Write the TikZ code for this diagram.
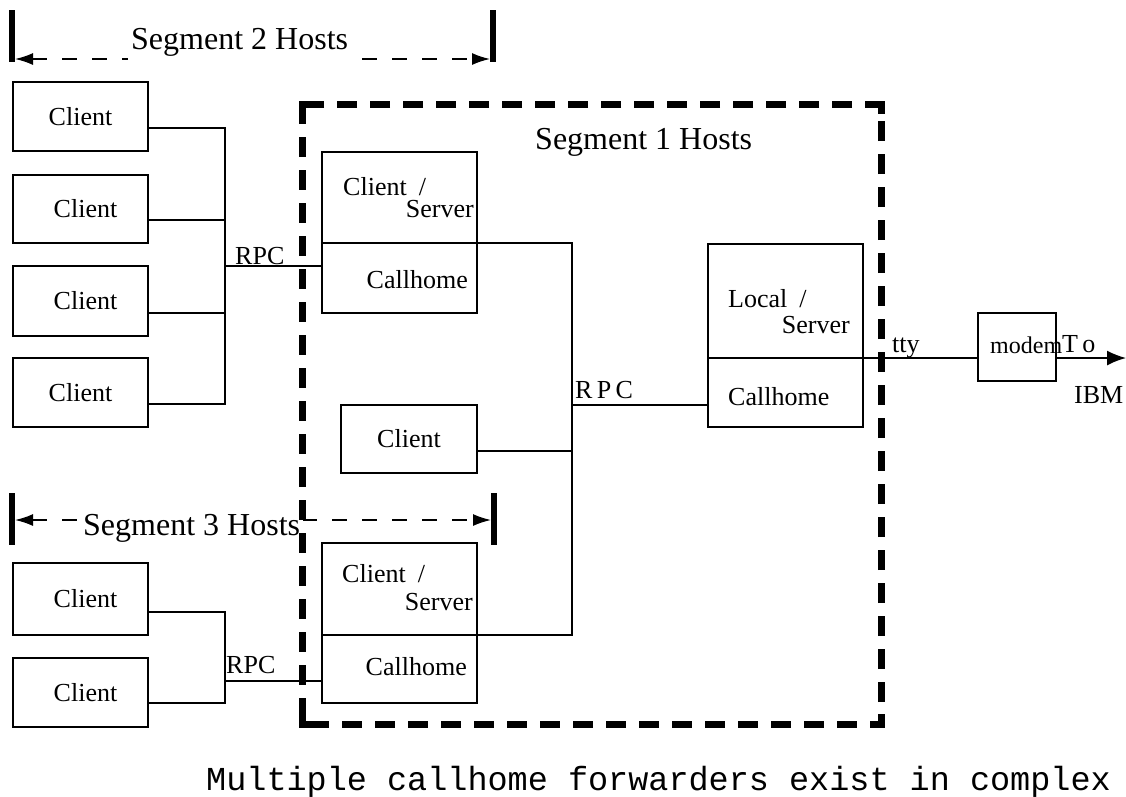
\documentclass[tikz,border=0pt]{standalone}
\usepackage{fontspec}
\setmainfont{Liberation Serif}
\newfontfamily\capmono{Liberation Mono}
\usetikzlibrary{arrows.meta}
\newcommand\boxfont{\fontsize{26pt}{28pt}\selectfont}
\newcommand\segfont{\fontsize{32pt}{34pt}\selectfont}
\begin{document}
\begin{tikzpicture}[x=1pt,y=-1pt,
  box/.style={draw, line width=1.6pt, inner sep=0pt, outer sep=0pt, anchor=north west, font=\boxfont},
  wire/.style={line width=1.6pt},
  lbl/.style={inner sep=0pt, font=\boxfont},
  bar/.style={line width=6pt},
  span/.style={line width=1.6pt, dash pattern=on 15pt off 15pt,
    {Latex[length=18pt,width=12pt]}-{Latex[length=18pt,width=12pt]}},
  seglbl/.style={fill=white, inner xsep=3pt, inner ysep=6pt, font=\segfont, anchor=base west},
  segbox/.style={line width=7pt, dash pattern=on 20pt off 13pt},
  corner/.style={line width=7pt}
]
\useasboundingbox (0,0) rectangle (1126,796);

% ---------- Segment 2 clients ----------
\node[box, minimum width=135pt, minimum height=69pt] (c21) at (13,82)  {Client};
\node[box, minimum width=135pt, minimum height=68pt] (c22) at (13,175) {\hspace{10pt}Client};
\node[box, minimum width=135pt, minimum height=70pt] (c23) at (13,266) {\hspace{10pt}Client};
\node[box, minimum width=135pt, minimum height=69pt] (c24) at (13,358) {Client};

\coordinate (bus2a) at (225,128);
\coordinate (bus2b) at (225,220);
\coordinate (bus2c) at (225,313);
\coordinate (bus2d) at (225,404);
\coordinate (rpc2)  at (225,266);

% ---------- Segment 1 hosts ----------
\node[box, minimum width=155pt, minimum height=91pt] (csAt) at (322,152) {};
\node[box, minimum width=155pt, minimum height=70pt] (csAb) at (322,243) {};
\node[lbl, anchor=base west] (csAc) at (343,195) {Client\hspace{12pt}/};
\node[lbl, anchor=base east] (csAs) at (474,217) {Server};
\node[lbl, anchor=base east] (csAh) at (468,288) {Callhome};

\node[box, minimum width=136pt, minimum height=68pt] (cM) at (341,405) {Client};

\node[box, minimum width=155pt, minimum height=92pt] (csBt) at (322,543) {};
\node[box, minimum width=155pt, minimum height=68pt] (csBb) at (322,635) {};
\node[lbl, anchor=base west] (csBc) at (342,582) {Client\hspace{12pt}/};
\node[lbl, anchor=base east] (csBs) at (473,610) {Server};
\node[lbl, anchor=base east] (csBh) at (467,675) {Callhome};

\node[box, minimum width=155pt, minimum height=114pt] (loT) at (708,244) {};
\node[box, minimum width=155pt, minimum height=69pt]  (loB) at (708,358) {};
\node[lbl, anchor=base west] (loL) at (728,307) {Local\hspace{12pt}/};
\node[lbl, anchor=base east] (loS) at (850,333) {Server};
\node[lbl, anchor=base west] (loH) at (728,405) {Callhome};

\coordinate (bus1t) at (572,243);
\coordinate (bus1m) at (572,451);
\coordinate (bus1r) at (572,405);
\coordinate (bus1b) at (572,635);

% ---------- modem ----------
\node[box, minimum width=78pt, minimum height=68pt] (modem) at (978,313) {};
\node[lbl, anchor=base west, font=\fontsize{24pt}{26pt}\selectfont] (modemT) at (990,353) {modem};
\coordinate (ibm) at (1126,358);

% ---------- Segment 3 clients ----------
\node[box, minimum width=135pt, minimum height=72pt] (c31) at (13,563) {\hspace{10pt}Client};
\node[box, minimum width=135pt, minimum height=69pt] (c32) at (13,658) {\hspace{10pt}Client};
\coordinate (bus3a) at (225,612);
\coordinate (bus3b) at (225,703);
\coordinate (rpc3)  at (225,681);

% ---------- wiring ----------
\draw[wire] (c21.east |- bus2a) -- (bus2a) -- (bus2d) -- (c24.east |- bus2d);
\draw[wire] (c22.east |- bus2b) -- (bus2b);
\draw[wire] (c23.east |- bus2c) -- (bus2c);
\draw[wire] (rpc2) -- (csAb.west |- rpc2);

\draw[wire] (csAt.south east) -- (bus1t) -- (bus1b) -- (csBt.south east);
\draw[wire] (cM.east |- bus1m) -- (bus1m);
\draw[wire] (bus1r) -- (loB.west |- bus1r);
\draw[wire] (loT.south east) -- (modem.west |- loT.south east);
\draw[wire, -{Latex[length=19pt,width=15pt]}] (modem.east |- ibm) -- (ibm);

\draw[wire] (c31.east |- bus3a) -- (bus3a) -- (bus3b) -- (c32.east |- bus3b);
\draw[wire] (rpc3) -- (csBb.west |- rpc3);

% ---------- wire labels ----------
\node[lbl, anchor=base west] (rpcA) at (235,264) {RPC};
\node[lbl, anchor=base west] (rpcM) at (575,398) {R\,P\,C};
\node[lbl, anchor=base west] (rpcB) at (226,673) {RPC};
\node[lbl, anchor=base west] (tty) at (892,352) {tty};
\node[lbl, anchor=base west] (to) at (1062,352) {T\,o};
\node[lbl, anchor=base west] (ibmT) at (1074,403) {IBM};

% ---------- Segment 2 span ----------
\draw[bar] (12,10) -- (12,62);
\draw[bar] (493,10) -- (493,62);
\coordinate (s2l) at (15,59);
\coordinate (s2r) at (490,59);
\draw[span] (s2l) -- (s2r);
\node[seglbl] (seg2) at (128,49) {Segment 2 Hosts};

% ---------- Segment 3 span ----------
\draw[bar] (12,493) -- (12,545);
\draw[bar] (494,493) -- (494,545);
\coordinate (s3l) at (15,520);
\coordinate (s3r) at (491,520);
\draw[span] (s3l) -- (s3r);
\node[seglbl] (seg3) at (80,535) {Segment 3 Hosts};

% ---------- Segment 1 boundary ----------
\draw[segbox] (302,104) rectangle (881,724);
\draw[corner] (302,114) -- (302,104) -- (312,104);
\draw[corner] (871,104) -- (881,104) -- (881,114);
\draw[corner] (881,714) -- (881,724) -- (871,724);
\draw[corner] (312,724) -- (302,724) -- (302,714);
\node[font=\segfont, inner sep=0pt, anchor=base west] (seg1) at (535,149) {Segment 1 Hosts};

% ---------- caption ----------
\node[font=\capmono\fontsize{33.5pt}{36pt}\selectfont, inner sep=0pt, anchor=base west] (cap)
  at (206,790) {Multiple callhome forwarders exist in complex};
\end{tikzpicture}
\end{document}
